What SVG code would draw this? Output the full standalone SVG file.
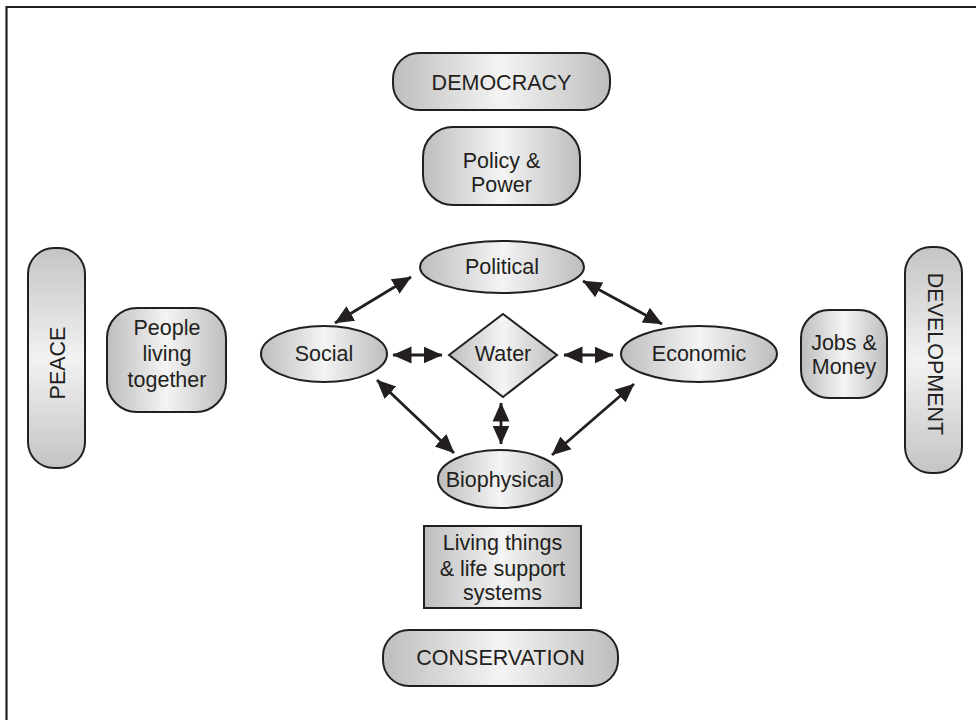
<svg xmlns="http://www.w3.org/2000/svg" width="976" height="720" viewBox="0 0 976 720">
  <defs>
    <!-- horizontal shading: grey edges, pale centre -->
    <linearGradient id="shadeH" x1="0" y1="0" x2="1" y2="0">
      <stop offset="0" stop-color="#bdbdbd"/>
      <stop offset="0.5" stop-color="#f4f4f4"/>
      <stop offset="1" stop-color="#bdbdbd"/>
    </linearGradient>
    <!-- vertical shading for the upright side bars -->
    <linearGradient id="shadeV" x1="0" y1="0" x2="0" y2="1">
      <stop offset="0" stop-color="#c4c4c4"/>
      <stop offset="0.5" stop-color="#f2f2f2"/>
      <stop offset="1" stop-color="#c4c4c4"/>
    </linearGradient>
    <marker id="head" markerUnits="userSpaceOnUse" markerWidth="20" markerHeight="20"
            viewBox="0 0 20 20" refX="18.5" refY="10" orient="auto-start-reverse">
      <path d="M0,1.5 L19,10 L0,18.5 Z" fill="#231f20"/>
    </marker>
  </defs>
  <style>
    .box { fill: url(#shadeH); stroke: #231f20; stroke-width: 2; }
    .bar { fill: url(#shadeV); stroke: #231f20; stroke-width: 2; }
    .lbl { font-family: "Liberation Sans", Arial, sans-serif; font-size: 21.5px; fill: #231f20; text-anchor: middle; }
    .link { stroke: #231f20; stroke-width: 2.8; fill: none; marker-start: url(#head); marker-end: url(#head); }
  </style>

  <rect width="976" height="720" fill="#ffffff"/>
  <!-- outer frame -->
  <path d="M6.5,720 V7 H976" fill="none" stroke="#231f20" stroke-width="2.2"/>

  <g id="democracy">
    <rect class="box" x="393" y="53" width="217" height="57" rx="26"/>
    <text class="lbl" x="501.5" y="90">DEMOCRACY</text>
  </g>

  <g id="policy-power">
    <rect class="box" x="423" y="127" width="157" height="78" rx="30"/>
    <text class="lbl" x="501.5" y="168">Policy &amp;</text>
    <text class="lbl" x="501.5" y="192">Power</text>
  </g>

  <g id="peace">
    <rect class="bar" x="28" y="248" width="57" height="220" rx="26"/>
    <text class="lbl" transform="translate(64.5,363) rotate(-90)">PEACE</text>
  </g>

  <g id="people">
    <rect class="box" x="107" y="308" width="119" height="104" rx="30"/>
    <text class="lbl" x="167" y="335">People</text>
    <text class="lbl" x="167" y="361">living</text>
    <text class="lbl" x="167" y="387">together</text>
  </g>

  <g id="development">
    <rect class="bar" x="905" y="247" width="57" height="226" rx="26"/>
    <text class="lbl" transform="translate(927.5,354) rotate(90)">DEVELOPMENT</text>
  </g>

  <g id="jobs-money">
    <rect class="box" x="801" y="310" width="86" height="88" rx="28"/>
    <text class="lbl" x="844" y="350">Jobs &amp;</text>
    <text class="lbl" x="844" y="374">Money</text>
  </g>

  <g id="political">
    <ellipse class="box" cx="502" cy="267" rx="82" ry="26"/>
    <text class="lbl" x="502" y="274">Political</text>
  </g>

  <g id="social">
    <ellipse class="box" cx="324" cy="354" rx="63" ry="28"/>
    <text class="lbl" x="324" y="361">Social</text>
  </g>

  <g id="water">
    <polygon class="box" points="449,355 503,314 557,355 503,397"/>
    <text class="lbl" x="503" y="361">Water</text>
  </g>

  <g id="economic">
    <ellipse class="box" cx="699" cy="354" rx="78" ry="28"/>
    <text class="lbl" x="699" y="361">Economic</text>
  </g>

  <g id="biophysical">
    <ellipse class="box" cx="500" cy="479" rx="62" ry="29"/>
    <text class="lbl" x="500" y="487">Biophysical</text>
  </g>

  <g id="living-things">
    <rect class="box" x="424" y="526" width="157" height="82"/>
    <text class="lbl" x="502.5" y="550">Living things</text>
    <text class="lbl" x="502.5" y="576">&amp; life support</text>
    <text class="lbl" x="502.5" y="600">systems</text>
  </g>

  <g id="conservation">
    <rect class="box" x="383" y="630" width="235" height="56" rx="26"/>
    <text class="lbl" x="500.5" y="665">CONSERVATION</text>
  </g>

  <g id="connectors">
    <line class="link" x1="335" y1="323" x2="411" y2="277"/>
    <line class="link" x1="583" y1="281" x2="662" y2="324"/>
    <line class="link" x1="393" y1="355" x2="442" y2="355"/>
    <line class="link" x1="564" y1="355" x2="613" y2="355"/>
    <line class="link" x1="501" y1="403" x2="501" y2="444"/>
    <line class="link" x1="377" y1="380" x2="454" y2="453"/>
    <line class="link" x1="634" y1="384" x2="552" y2="455"/>
  </g>
</svg>
